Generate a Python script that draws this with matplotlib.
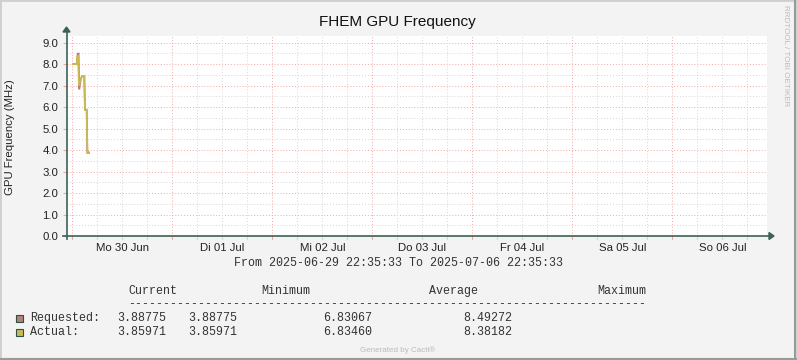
import matplotlib
matplotlib.use("Agg")
import matplotlib.pyplot as plt
from matplotlib.patches import Rectangle
import numpy as np

W, H = 797, 360
DPI = 100

# ---------------- data ----------------
# time in hours since 2025-06-29 22:35:33
req_hours = [1.63, 2.45, 2.72, 2.9, 3.05, 3.41, 3.72, 4.27, 4.44, 4.85, 5.0, 5.4]
req_vals = [8.0, 8.0, 8.49, 8.49, 6.83, 7.29, 7.44, 7.44, 5.88, 5.88, 3.89, 3.89]
act_hours = [1.63, 2.45, 2.59, 2.76, 3.0, 3.41, 3.72, 4.27, 4.44, 4.85, 5.0, 5.4]
act_vals = [8.0, 8.0, 8.38, 8.38, 7.0, 7.29, 7.44, 7.44, 5.86, 5.86, 3.86, 3.86]

day_labels = ["Mo 30 Jun", "Di 01 Jul", "Mi 02 Jul", "Do 03 Jul",
              "Fr 04 Jul", "Sa 05 Jul", "So 06 Jul"]
y_ticks = [0.0, 1.0, 2.0, 3.0, 4.0, 5.0, 6.0, 7.0, 8.0, 9.0]

legend_names = ["Requested:", "Actual:"]
legend_colors = ["#B87F7C", "#C9BA55"]
legend_current = ["3.88775", "3.85971"]
legend_minimum = ["3.88775", "3.85971"]
legend_average = ["6.83067", "6.83460"]
legend_maximum = ["8.49272", "8.38182"]

title = "FHEM GPU Frequency"
ylabel = "GPU Frequency (MHz)"
range_text = "From 2025-06-29 22:35:33 To 2025-07-06 22:35:33"

TOTAL_H = 168.0
first_midnight = 1.0 + 24/60 + 27/3600  # 00:00 on 06-30

# ---------------- figure ----------------
fig = plt.figure(figsize=(W / DPI, H / DPI), dpi=DPI)
fig.patch.set_facecolor("#F3F3F3")

def fx(x):
    return x / W

def fy(y):
    return 1 - y / H

# border
fig.add_artist(Rectangle((0, 0), 1, 1, transform=fig.transFigure, fill=False,
                         edgecolor="#CFCFCF", lw=2))
fig.add_artist(plt.Line2D([0, 1], [0.002, 0.002], transform=fig.transFigure,
                          color="#9A9A9A", lw=1.5))
fig.add_artist(plt.Line2D([0.998, 0.998], [0, 1], transform=fig.transFigure,
                          color="#9A9A9A", lw=1.5))

x0, x1 = 66.5, 766.5
ytop, ybot = 36, 236
ax = fig.add_axes([fx(x0), fy(ybot), fx(x1 - x0), (ybot - ytop) / H])
ax.set_facecolor("white")
ax.set_xlim(0, TOTAL_H)
ymax = 9.31
ax.set_ylim(0, ymax)
for s in ax.spines.values():
    s.set_visible(False)

major_col = (0.94, 0.66, 0.66)
minor_col = (0.84, 0.84, 0.84)

# grid
for v in np.arange(0.5, 9.3, 0.5):
    if abs(v - round(v)) < 1e-6:
        ax.axhline(v, color=major_col, lw=0.7, ls=(0, (1, 2)), zorder=1)
    else:
        ax.axhline(v, color=minor_col, lw=0.7, ls=(0, (1, 2)), zorder=1)
k = 0
t = first_midnight
while t < TOTAL_H:
    if k % 4 == 0:
        ax.axvline(t, color=major_col, lw=0.7, ls=(0, (1, 2)), zorder=1)
    else:
        ax.axvline(t, color=minor_col, lw=0.7, ls=(0, (1, 2)), zorder=1)
    k += 1
    t += 6.0

# lines
ax.plot(req_hours, req_vals, color=legend_colors[0], lw=1.3, zorder=3,
        solid_joinstyle="miter")
ax.plot(act_hours, act_vals, color=legend_colors[1], lw=1.3, zorder=4,
        solid_joinstyle="miter")

# ticks
ax.set_yticks(y_ticks)
ax.set_yticklabels([f"{v:.1f}" for v in y_ticks])
label_pos = [first_midnight + 12 + 24 * i for i in range(len(day_labels))]
ax.set_xticks(label_pos)
ax.set_xticklabels(day_labels)
ax.tick_params(axis="x", length=0, pad=5, labelsize=8, colors="#222222")
ax.tick_params(axis="y", length=3, width=0.8, color=major_col, pad=3,
               labelsize=8, labelcolor="#222222")
for lab in ax.get_xticklabels() + ax.get_yticklabels():
    lab.set_family("Liberation Sans")
    lab.set_fontsize(8.2)

# small x ticks below axis
for i in range(0, 28):
    t = first_midnight + 6 * i
    if t > TOTAL_H:
        break
    col = major_col if i % 4 == 0 else minor_col
    ax.plot([t, t], [-3 / 21.49, 0], color=col, lw=0.8, clip_on=False, zorder=2)

# axes lines with arrows (figure pixel coords)
axis_col = "#3C6157"
fig.add_artist(plt.Line2D([fx(63), fx(772)], [fy(236), fy(236)], color=axis_col,
                          lw=1.2, transform=fig.transFigure))
fig.add_artist(plt.Line2D([fx(66.5), fx(66.5)], [fy(239), fy(30)], color=axis_col,
                          lw=1.2, transform=fig.transFigure))
fig.add_artist(plt.Polygon([[fx(769), fy(232.5)], [fx(774), fy(236)], [fx(769), fy(239.5)]],
                           closed=True, color=axis_col, transform=fig.transFigure))
fig.add_artist(plt.Polygon([[fx(63), fy(32)], [fx(66.5), fy(27)], [fx(70), fy(32)]],
                           closed=True, color=axis_col, transform=fig.transFigure))

# title & labels
fig.text(fx(397), fy(22), title, ha="center", va="center", fontsize=11,
         family="Liberation Sans", color="#111111")
fig.text(fx(10), fy(137), ylabel, ha="center", va="center", rotation=90,
         fontsize=8.2, family="Liberation Sans", color="#222222")
fig.text(fx(786), fy(56), "RRDTOOL / TOBI OETIKER", ha="center", va="center",
         rotation=270, fontsize=5.8, family="Liberation Sans", color="#BBBBBB")
fig.text(fx(398), fy(350), "Generated by Cacti®", ha="center", va="center",
         fontsize=5.8, family="Liberation Sans", color="#BBBBBB")

mono = dict(family="Liberation Mono", fontsize=8.4, color="#333333", va="center")
fig.text(fx(234), fy(263), range_text, ha="left", **mono)
fig.text(fx(128), fy(291), "Current", ha="left", **mono)
fig.text(fx(261), fy(291), "Minimum", ha="left", **mono)
fig.text(fx(429), fy(291), "Average", ha="left", **mono)
fig.text(fx(597), fy(291), "Maximum", ha="left", **mono)
fig.text(fx(128), fy(304), "-" * 74, ha="left", **mono)

rows_y = [318, 332]
for i in range(len(legend_names)):
    y = rows_y[i]
    fig.add_artist(Rectangle((fx(16), fy(y + 4)), fx(7), 7 / H,
                             transform=fig.transFigure, facecolor=legend_colors[i],
                             edgecolor="#2F4F44", lw=0.8))
    fig.text(fx(30), fy(y), legend_names[i], ha="left", **mono)
    fig.text(fx(117), fy(y), legend_current[i], ha="left", **mono)
    fig.text(fx(188), fy(y), legend_minimum[i], ha="left", **mono)
    fig.text(fx(323), fy(y), legend_average[i], ha="left", **mono)
    fig.text(fx(463), fy(y), legend_maximum[i], ha="left", **mono)

fig.savefig("out.png", dpi=DPI, facecolor=fig.get_facecolor())
